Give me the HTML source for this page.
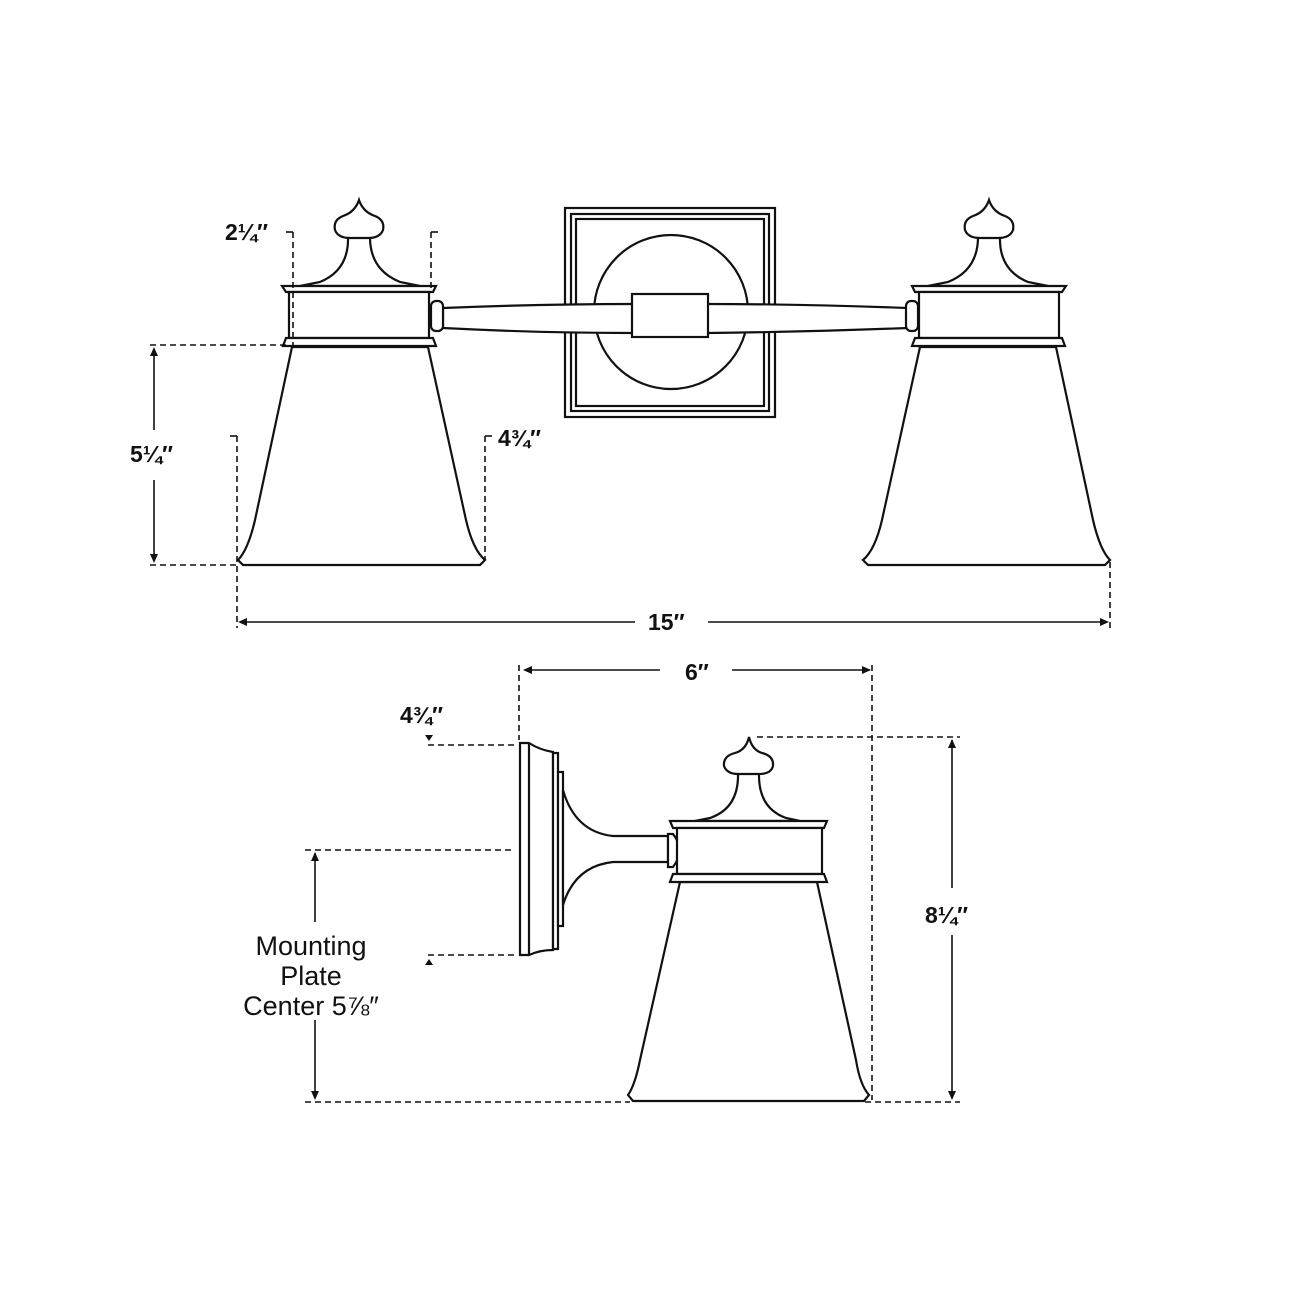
<!DOCTYPE html>
<html><head><style>
html,body{margin:0;padding:0;background:#fff;}
svg{display:block}
text{font-family:"Liberation Sans",sans-serif;fill:#111;}
.b{font-weight:bold;font-size:23px;}
</style></head><body>
<svg width="1300" height="1300" viewBox="0 0 1300 1300" xmlns="http://www.w3.org/2000/svg">
<defs>
<g id="lamp" fill="#fff" stroke="#111" stroke-width="2.2">
  <path d="M292 347 L255 520 Q248 550 238 560 L243 565 L480 565 L485 560 Q473 550 466 520 L428 347 Z"/>
  <path d="M348 237 Q349 270 320 282 L300 286 L420 286 L400 282 Q370 270 370 237 Z"/>
  <path d="M359 200 Q355 212 343 216 Q333 220 335 230 Q338 238 350 238 L368 238 Q380 238 383 230 Q385 220 375 216 Q363 212 359 200 Z"/>
  <path d="M282 286 L436 286 L433 292 L286 292 Z"/>
  <rect x="289" y="292" width="140" height="46"/>
  <path d="M286 338 L433 338 L436 346 L283 346 Z"/>
</g>
</defs>

<g fill="none" stroke="#111" stroke-width="2.2">
  <rect x="565" y="208" width="210" height="209"/>
  <rect x="571" y="214" width="198" height="197"/>
  <rect x="576" y="219" width="188" height="187"/>
  <circle cx="671" cy="312" r="77" fill="#fff"/>
  <path d="M443 308 Q540 304 632 304 L708 304 Q800 304 908 308 L908 328 Q800 332 708 333 L632 333 Q540 333 443 328 Z" fill="#fff"/>
  <rect x="632" y="294" width="76" height="43" fill="#fff"/>
  <rect x="431" y="301" width="12" height="30" rx="5" fill="#fff"/>
  <rect x="906" y="301" width="12" height="30" rx="5" fill="#fff"/>
</g>
<use href="#lamp"/>
<use href="#lamp" transform="translate(1348,0) scale(-1,1)"/>

<g stroke="#111" stroke-width="1.6" fill="none" stroke-dasharray="6,4">
  <path d="M293 232 V345"/><path d="M431 232 V290"/>
  <path d="M150 345 H290"/><path d="M150 565 H238"/>
  <path d="M485 436 V560"/><path d="M237 436 V628"/>
  <path d="M1110 562 V628"/>
</g>
<g stroke="#111" stroke-width="1.6" fill="none">
  <path d="M286 232 H293"/><path d="M431 232 H438"/>
  <path d="M230 436 H237"/><path d="M485 436 H492"/>
  <path d="M154 350 V430"/><path d="M154 480 V560"/>
  <path d="M240 622 H635"/><path d="M708 622 H1107"/>
</g>
<g fill="#111">
  <path d="M154 347 L150 356 L158 356Z"/><path d="M154 563 L150 554 L158 554Z"/>
  <path d="M238 622 L247 618 L247 626Z"/><path d="M1109 622 L1100 618 L1100 626Z"/>
</g>
<text class="b" x="225" y="240">2¼″</text>
<text class="b" x="130" y="462">5¼″</text>
<text class="b" x="498" y="446">4¾″</text>
<text class="b" x="648" y="630">15″</text>

<g fill="#fff" stroke="#111" stroke-width="2.2">
  <path d="M520 743 L529 743 Q540 750 553 752 L553 950 Q540 950 529 955 L520 955 Z"/>
  <path d="M529 743 V955"/>
  <rect x="553" y="753" width="5" height="196"/>
  <rect x="558" y="772" width="5" height="154"/>
  <path d="M563 790 Q575 832 613 836 L668 836 L668 862 L613 862 Q575 866 563 905 Z"/>
  <path d="M668 834 L673 834 Q686 850 673 867 L668 867 Z"/>
  <path d="M680 882 L640 1060 Q635 1085 628 1095 L633 1101 L864 1101 L869 1095 Q860 1085 856 1060 L817 882 Z"/>
  <path d="M738 773 Q739 808 710 818 L695 821 L800 821 L786 818 Q758 808 759 773 Z"/>
  <path d="M749 737 Q746 750 735 753 Q723 756 724 766 Q727 774 738 774 L759 774 Q771 774 773 766 Q774 756 762 753 Q752 750 749 737 Z"/>
  <path d="M670 821 L827 821 L824 828 L673 828 Z"/>
  <rect x="677" y="828" width="145" height="46"/>
  <path d="M673 874 L824 874 L827 882 L670 882 Z"/>
</g>
<g stroke="#111" stroke-width="1.6" fill="none" stroke-dasharray="6,4">
  <path d="M519 665 V740"/><path d="M872 665 V1100"/>
  <path d="M428 745 H515"/><path d="M428 955 H515"/>
  <path d="M305 850 H515"/><path d="M305 1102 H630"/>
  <path d="M757 737 H960"/><path d="M865 1102 H960"/>
</g>
<g stroke="#111" stroke-width="1.6" fill="none">
  <path d="M525 670 H660"/><path d="M732 670 H870"/>
  <path d="M315 853 V922"/><path d="M315 1020 V1098"/>
  <path d="M952 740 V888"/><path d="M952 935 V1098"/>
</g>
<g fill="#111">
  <path d="M523 670 L532 666 L532 674Z"/><path d="M871 670 L862 666 L862 674Z"/>
  <path d="M315 852 L311 861 L319 861Z"/><path d="M315 1100 L311 1091 L319 1091Z"/>
  <path d="M952 739 L948 748 L956 748Z"/><path d="M952 1100 L948 1091 L956 1091Z"/>
  <path d="M429 741 L425 735 L433 735Z"/><path d="M429 959 L425 965 L433 965Z"/>
</g>
<text class="b" x="685" y="680">6″</text>
<text class="b" x="400" y="723">4¾″</text>
<text class="b" x="925" y="923">8¼″</text>
<text x="311" y="955" font-size="27" text-anchor="middle">Mounting</text>
<text x="311" y="985" font-size="27" text-anchor="middle">Plate</text>
<text x="311" y="1015" font-size="27" text-anchor="middle">Center 5⅞″</text>
</svg>
</body></html>
